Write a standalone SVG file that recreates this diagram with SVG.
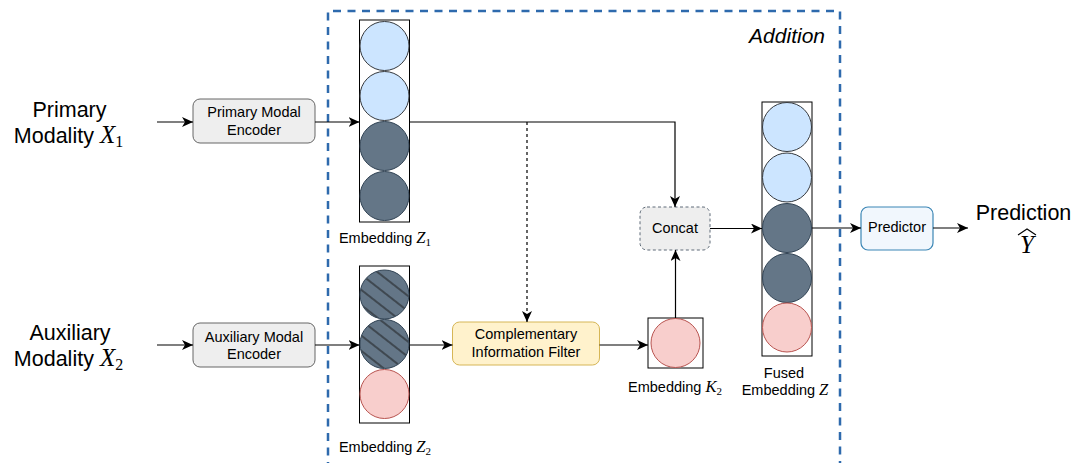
<svg xmlns="http://www.w3.org/2000/svg" width="1076" height="463" viewBox="0 0 1076 463">
  <style>
    .sans { font-family: "Liberation Sans", Arial, sans-serif; fill: #000; }
    .math { font-family: "Liberation Serif", "Times New Roman", serif; font-style: italic; }
    .sub { font-family: "Liberation Serif", "Times New Roman", serif; font-style: normal; }
    .col { fill: none; stroke: #000; stroke-width: 1; }
    .lb { fill: #cce5ff; stroke: #36393d; stroke-width: 1; }
    .dk { fill: #647687; stroke: #314354; stroke-width: 1; }
    .pk { fill: #f8cecc; stroke: #b85450; stroke-width: 1; }
    .hatch { fill: url(#hatch); stroke: none; }
    .enc { fill: #eeeeee; stroke: #666666; stroke-width: 1; }
    .edge { fill: none; stroke: #000; stroke-width: 1.2; marker-end: url(#arrow); }
    .dashed { stroke-dasharray: 3 3; }
  </style>
  <defs>
    <marker id="arrow" markerUnits="userSpaceOnUse" markerWidth="12" markerHeight="10" refX="11" refY="5" orient="auto">
      <path d="M0,0 L11,5 L0,10 L3,5 Z" fill="#000"/>
    </marker>
    <pattern id="hatch" patternUnits="userSpaceOnUse" width="12" height="12" patternTransform="rotate(38)">
      <line x1="0" y1="6" x2="12" y2="6" stroke="#1a1a1a" stroke-width="1"/>
    </pattern>
  </defs>

  <rect width="1076" height="463" fill="#ffffff"/>

  <!-- fusion region -->
  <g id="addition-region">
    <path d="M328,470 L328,11 L840,11 L840,470" fill="none" stroke="#2e6aad" stroke-width="2.5" stroke-dasharray="8 6.5"/>
    <text class="sans" x="825" y="43" font-size="21" font-style="italic" text-anchor="end">Addition</text>
  </g>

  <!-- inputs -->
  <g id="primary-input">
    <text class="sans" x="69.5" y="117" font-size="21.5" text-anchor="middle">Primary</text>
    <text class="sans" x="68.5" y="143" font-size="21.5" text-anchor="middle">Modality <tspan class="math" font-size="25">X</tspan><tspan class="sub" font-size="16" dy="4">1</tspan></text>
  </g>
  <g id="auxiliary-input">
    <text class="sans" x="70" y="340" font-size="21.5" text-anchor="middle">Auxiliary</text>
    <text class="sans" x="68.5" y="366" font-size="21.5" text-anchor="middle">Modality <tspan class="math" font-size="25">X</tspan><tspan class="sub" font-size="16" dy="4">2</tspan></text>
  </g>

  <!-- encoders -->
  <g id="primary-encoder">
    <rect class="enc" x="193" y="99" width="122" height="44" rx="7"/>
    <text class="sans" x="254" y="117" font-size="14.5" text-anchor="middle">Primary Modal</text>
    <text class="sans" x="254" y="135" font-size="14.5" text-anchor="middle">Encoder</text>
  </g>
  <g id="auxiliary-encoder">
    <rect class="enc" x="193" y="323" width="122" height="44" rx="7"/>
    <text class="sans" x="254" y="342" font-size="14.5" text-anchor="middle">Auxiliary Modal</text>
    <text class="sans" x="254" y="359" font-size="14.5" text-anchor="middle">Encoder</text>
  </g>

  <!-- embedding Z1 -->
  <g id="embedding-z1">
    <rect class="col" x="359.5" y="20" width="50" height="202"/>
    <circle class="lb" cx="384.5" cy="46" r="24.5"/>
    <circle class="lb" cx="384.5" cy="96" r="24.5"/>
    <circle class="dk" cx="384.5" cy="146" r="24.5"/>
    <circle class="dk" cx="384.5" cy="196" r="24.5"/>
    <text class="sans" x="385" y="243" font-size="14.5" text-anchor="middle">Embedding <tspan class="math" font-size="16.5">Z</tspan><tspan class="sub" font-size="11" dy="3">1</tspan></text>
  </g>

  <!-- embedding Z2 -->
  <g id="embedding-z2">
    <rect class="col" x="359.5" y="266" width="50" height="157"/>
    <circle class="dk" cx="384.5" cy="294.5" r="24.5"/>
    <circle class="hatch" cx="384.5" cy="294.5" r="24"/>
    <circle class="dk" cx="384.5" cy="344" r="24.5"/>
    <circle class="hatch" cx="384.5" cy="344" r="24"/>
    <circle class="pk" cx="384.5" cy="394" r="24.5"/>
    <text class="sans" x="385" y="452" font-size="14.5" text-anchor="middle">Embedding <tspan class="math" font-size="16.5">Z</tspan><tspan class="sub" font-size="11" dy="3">2</tspan></text>
  </g>

  <!-- complementary information filter -->
  <g id="filter">
    <rect x="452.5" y="322" width="147" height="43" rx="7" fill="#fff2cc" stroke="#d6b656" stroke-width="1"/>
    <text class="sans" x="526" y="339" font-size="14.5" text-anchor="middle">Complementary</text>
    <text class="sans" x="526" y="357" font-size="14.5" text-anchor="middle">Information Filter</text>
  </g>

  <!-- embedding K2 -->
  <g id="embedding-k2">
    <rect class="col" x="648" y="318" width="55" height="50"/>
    <circle class="pk" cx="675.5" cy="343" r="24.5"/>
    <text class="sans" x="675" y="392" font-size="14.5" text-anchor="middle">Embedding <tspan class="math" font-size="16.5">K</tspan><tspan class="sub" font-size="11" dy="3">2</tspan></text>
  </g>

  <!-- concat -->
  <g id="concat">
    <rect x="640" y="207" width="70" height="43" rx="7" fill="#eeeeee" stroke="#5f6b78" stroke-width="1" stroke-dasharray="3 2.5"/>
    <text class="sans" x="675" y="233" font-size="14.5" text-anchor="middle">Concat</text>
  </g>

  <!-- fused embedding Z -->
  <g id="fused-embedding">
    <rect class="col" x="762" y="102" width="50" height="254"/>
    <circle class="lb" cx="787" cy="127" r="24.5"/>
    <circle class="lb" cx="787" cy="177.5" r="24.5"/>
    <circle class="dk" cx="787" cy="228" r="24.5"/>
    <circle class="dk" cx="787" cy="278" r="24.5"/>
    <circle class="pk" cx="787" cy="327.5" r="24.5"/>
    <text class="sans" x="784" y="378" font-size="14.5" text-anchor="middle">Fused</text>
    <text class="sans" x="785" y="395" font-size="14.5" text-anchor="middle">Embedding <tspan class="math" font-size="16.5">Z</tspan></text>
  </g>

  <!-- predictor -->
  <g id="predictor">
    <rect x="861" y="207" width="72" height="43" rx="7" fill="#f1f7fd" stroke="#3b86b5" stroke-width="1.2"/>
    <text class="sans" x="897" y="232" font-size="14.5" text-anchor="middle">Predictor</text>
  </g>

  <!-- output -->
  <g id="prediction">
    <text class="sans" x="1023.5" y="220" font-size="21.5" text-anchor="middle">Prediction</text>
    <text class="math" x="1027" y="253" font-size="25" text-anchor="middle">Y</text>
    <path d="M1018,235 L1027,229 L1036,235" fill="none" stroke="#000" stroke-width="1.1"/>
  </g>

  <!-- connectors -->
  <g id="connectors">
    <path class="edge" d="M157,122 L193,122"/>
    <path class="edge" d="M157,345 L193,345"/>
    <path class="edge" d="M315,122 L359.5,122"/>
    <path class="edge" d="M315,345 L359.5,345"/>
    <path class="edge" d="M409.5,122 L675,122 L675,207"/>
    <path class="edge dashed" d="M527,122 L527,322"/>
    <path class="edge" d="M409.5,345 L452.5,345"/>
    <path class="edge" d="M599.5,345 L648,345"/>
    <path class="edge" d="M675.5,318 L675.5,250"/>
    <path class="edge" d="M710,228.5 L762,228.5"/>
    <path class="edge" d="M812,228 L861,228"/>
    <path class="edge" d="M933,228 L968,228"/>
  </g>
</svg>
